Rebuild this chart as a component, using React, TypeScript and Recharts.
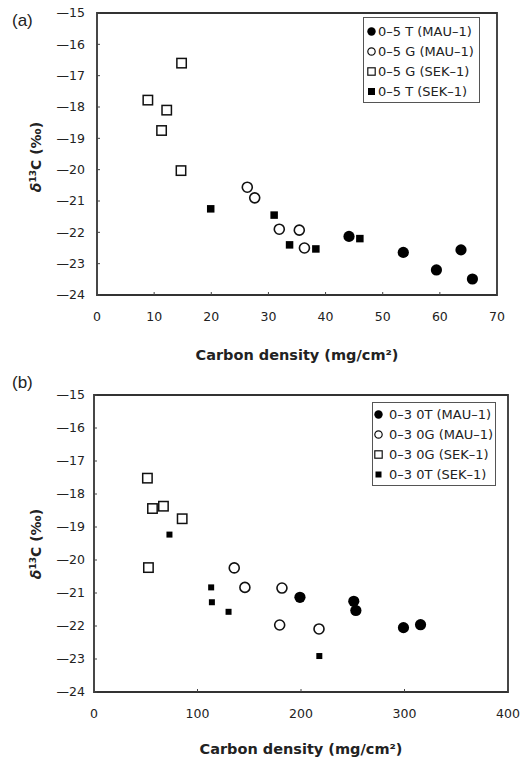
import React from "react";
import {
  ScatterChart,
  Scatter,
  XAxis,
  YAxis,
  ReferenceArea,
  Legend,
  Label,
} from "recharts";

// panel (a): 0-5 cm layer
const aMauTX = [44.1, 53.6, 59.4, 63.7, 65.7];
const aMauTY = [-22.13, -22.64, -23.2, -22.56, -23.49];
const aMauGX = [26.3, 27.6, 31.9, 35.4, 36.3];
const aMauGY = [-20.56, -20.9, -21.9, -21.93, -22.5];
const aSekGX = [14.8, 8.9, 12.2, 11.3, 14.7];
const aSekGY = [-16.6, -17.78, -18.1, -18.75, -20.03];
const aSekTX = [19.9, 31.0, 33.7, 38.3, 46.0];
const aSekTY = [-21.25, -21.45, -22.4, -22.53, -22.2];

// panel (b): 0-30 cm layer
const bMauTX = [199, 251, 253, 299, 315.5];
const bMauTY = [-21.13, -21.25, -21.53, -22.05, -21.96];
const bMauGX = [135.5, 145.8, 181.6, 179.4, 217.4];
const bMauGY = [-20.24, -20.83, -20.85, -21.97, -22.09];
const bSekGX = [51.6, 56.5, 67.1, 85.2, 52.6];
const bSekGY = [-17.52, -18.44, -18.37, -18.75, -20.23];
const bSekTX = [72.9, 113.2, 113.9, 130, 217.7];
const bSekTY = [-19.23, -20.83, -21.28, -21.57, -22.91];

const aNames = ["0–5 T (MAU–1)", "0–5 G (MAU–1)", "0–5 G (SEK–1)", "0–5 T (SEK–1)"];
const bNames = ["0–3 0T (MAU–1)", "0–3 0G (MAU–1)", "0–3 0G (SEK–1)", "0–3 0T (SEK–1)"];

const yTicks = [-15, -16, -17, -18, -19, -20, -21, -22, -23, -24];
const xTicksA = [0, 10, 20, 30, 40, 50, 60, 70];
const xTicksB = [0, 100, 200, 300, 400];

const zip = (xs: number[], ys: number[]) => xs.map((x, i) => ({ x, y: ys[i] }));

const FONT = "DejaVu Sans";

type Kind = "dot" | "ring" | "box" | "block";
const kinds: Kind[] = ["dot", "ring", "box", "block"];

function marker(kind: Kind, blockSize: number) {
  return (p: any) => {
    const { cx, cy } = p;
    if (kind === "dot") return <circle cx={cx} cy={cy} r={5.6} fill="#000" />;
    if (kind === "ring")
      return <circle cx={cx} cy={cy} r={5} fill="#fff" stroke="#111" strokeWidth={1.6} />;
    if (kind === "box")
      return (
        <rect x={cx - 4.7} y={cy - 4.7} width={9.4} height={9.4} fill="#fff" stroke="#111" strokeWidth={1.5} />
      );
    return (
      <rect x={cx - blockSize / 2} y={cy - blockSize / 2} width={blockSize} height={blockSize} fill="#000" />
    );
  };
}

function LegendIcon({ kind, block }: { kind: Kind; block: number }) {
  return (
    <svg width={9} height={9} style={{ display: "block", flex: "none" }}>
      {kind === "dot" && <circle cx={4.5} cy={4.5} r={4.2} fill="#000" />}
      {kind === "ring" && <circle cx={4.5} cy={4.5} r={3.7} fill="none" stroke="#111" strokeWidth={1.2} />}
      {kind === "box" && <rect x={0.8} y={0.8} width={7.4} height={7.4} fill="none" stroke="#111" strokeWidth={1.2} />}
      {kind === "block" && (
        <rect x={4.5 - block / 2} y={4.5 - block / 2} width={block} height={block} fill="#000" />
      )}
    </svg>
  );
}

function makeLegend(names: string[], block: number, gap: number, padTop: number, padLeft: number) {
  return () => (
    <div
      style={{
        border: "1.3px solid #555",
        background: "#fff",
        paddingTop: padTop,
        paddingBottom: 1,
        paddingLeft: padLeft,
        fontFamily: FONT,
        fontSize: 13,
        color: "#222",
        boxSizing: "border-box",
      }}
    >
      {names.map((n, i) => (
        <div key={n} style={{ display: "flex", alignItems: "center", height: 20 }}>
          <LegendIcon kind={kinds[i]} block={Math.min(block, 7)} />
          <span style={{ marginLeft: gap, whiteSpace: "nowrap" }}>{n}</span>
        </div>
      ))}
    </div>
  );
}

function YTitle({ x, y }: { x: number; y: number }) {
  return (
    <text
      transform={`rotate(-90, ${x}, ${y})`}
      x={x}
      y={y}
      textAnchor="middle"
      fontFamily={FONT}
      fontWeight="bold"
      fontSize={14}
      fill="#222"
    >
      <tspan fontStyle="italic">δ</tspan>
      <tspan dy={-5} fontSize={9}>13</tspan>
      <tspan dy={5}>C (‰)</tspan>
    </text>
  );
}

type PanelProps = {
  height: number;
  margin: { top: number; right: number; left: number; bottom: number };
  yWidth: number;
  xHeight: number;
  xMax: number;
  xTicks: number[];
  series: { x: number; y: number }[][];
  names: string[];
  block: number;
  yTickMargin: number;
  titleOffset: number;
  yTitleY: number;
  legendBox: { left: number; top: number; width: number; gap: number; padTop: number; padLeft: number };
};

function Panel(p: PanelProps) {
  return (
    <ScatterChart width={521} height={p.height} margin={p.margin}>
      <XAxis
        type="number"
        dataKey="x"
        domain={[0, p.xMax]}
        ticks={p.xTicks}
        interval={0}
        height={p.xHeight}
        axisLine={false}
        tickSize={-3}
        tickMargin={20}
        tickLine={{ stroke: "#444" }}
        tick={{ fill: "#222", fontFamily: FONT, fontSize: 12.5 }}
      >
        <Label
          content={(lp: any) => {
            const vb = lp.viewBox;
            return (
              <text
                x={vb.x + vb.width / 2}
                y={vb.y + vb.height - p.titleOffset}
                textAnchor="middle"
                fontFamily={FONT}
                fontWeight="bold"
                fontSize={14.5}
                fill="#222"
              >
                Carbon density (mg/cm²)
              </text>
            );
          }}
        />
      </XAxis>
      <YAxis
        type="number"
        dataKey="y"
        domain={[-24, -15]}
        ticks={yTicks}
        interval={0}
        width={p.yWidth}
        axisLine={false}
        tickSize={-3}
        tickMargin={p.yTickMargin}
        tickLine={{ stroke: "#444" }}
        tickFormatter={(v: number) => "—" + Math.abs(v)}
        tick={{ fill: "#222", fontFamily: FONT, fontSize: 12.5 }}
      >
        <Label content={() => <YTitle x={41} y={p.yTitleY} />} />
      </YAxis>
      <ReferenceArea
        x1={0}
        x2={p.xMax}
        y1={-24}
        y2={-15}
        fill="none"
        fillOpacity={0}
        stroke="#333"
        strokeWidth={1.8}
      />
      {p.series.map((d, i) => (
        <Scatter
          key={p.names[i]}
          name={p.names[i]}
          data={d}
          shape={marker(kinds[i], p.block)}
          isAnimationActive={false}
        />
      ))}
      <Legend
        layout="vertical"
        align="center"
        verticalAlign="middle"
        wrapperStyle={{ left: p.legendBox.left, top: p.legendBox.top, width: p.legendBox.width }}
        content={makeLegend(p.names, p.block, p.legendBox.gap, p.legendBox.padTop, p.legendBox.padLeft)}
      />
    </ScatterChart>
  );
}

const tag: React.CSSProperties = {
  position: "absolute",
  left: 12,
  fontFamily: "Liberation Sans",
  fontSize: 17,
  color: "#222",
  lineHeight: "18px",
};

export default function App() {
  return (
    <div style={{ position: "absolute", left: 0, top: 0, width: 521, height: 763, background: "#fff" }}>
      <div style={{ ...tag, top: 12 }}>(a)</div>
      <div style={{ ...tag, top: 374 }}>(b)</div>
      <div style={{ position: "absolute", left: 0, top: 0 }}>
        <Panel
          height={381}
          margin={{ top: 13, right: 24, left: 0, bottom: 0 }}
          yWidth={97}
          xHeight={86}
          xMax={70}
          xTicks={xTicksA}
          series={[zip(aMauTX, aMauTY), zip(aMauGX, aMauGY), zip(aSekGX, aSekGY), zip(aSekTX, aSekTY)]}
          names={aNames}
          block={7.5}
          yTickMargin={15}
          titleOffset={21}
          yTitleY={157}
          legendBox={{ left: 363, top: 17, width: 117, gap: 2, padTop: 3, padLeft: 3 }}
        />
      </div>
      <div style={{ position: "absolute", left: 0, top: 381 }}>
        <Panel
          height={382}
          margin={{ top: 14, right: 13, left: 0, bottom: 0 }}
          yWidth={94}
          xHeight={71}
          xMax={400}
          xTicks={xTicksB}
          series={[zip(bMauTX, bMauTY), zip(bMauGX, bMauGY), zip(bSekGX, bSekGY), zip(bSekTX, bSekTY)]}
          names={bNames}
          block={6}
          yTickMargin={12}
          titleOffset={9}
          yTitleY={163}
          legendBox={{ left: 372, top: 21, width: 124, gap: 6, padTop: 1, padLeft: 1 }}
        />
      </div>
    </div>
  );
}
